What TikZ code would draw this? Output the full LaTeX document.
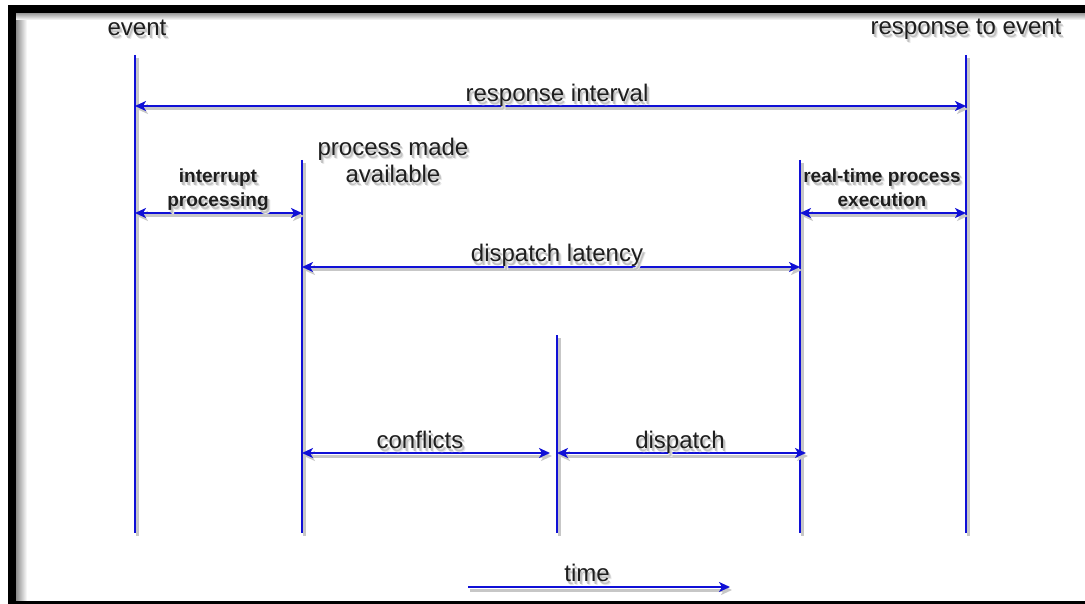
\documentclass[tikz,border=0pt]{standalone}
\usepackage{fontspec}
\setmainfont{Liberation Sans}
\usetikzlibrary{arrows.meta,calc}
\definecolor{tline}{RGB}{16,16,214}
\definecolor{ink}{RGB}{30,30,30}
% text with a soft drop shadow
\newcommand\shd[1]{\leavevmode
  \rlap{\smash{\kern3pt\raisebox{-4pt}{\color{black!9}#1}}}%
  \rlap{\smash{\kern1pt\raisebox{-2pt}{\color{black!9}#1}}}%
  \rlap{\smash{\kern2pt\raisebox{-3pt}{\color{black!24}#1}}}%
  #1}
\begin{document}
\begin{tikzpicture}[x=1pt,y=-1pt,
  mark line/.style={draw=tline, line width=2pt,
    preaction={draw=black!22, line width=3pt, transform canvas={shift={(2,3)}}}},
  span/.style={mark line, {Stealth[length=11pt,width=10pt,inset=3pt]}-{Stealth[length=11pt,width=10pt,inset=3pt]}},
  onearrow/.style={mark line, -{Stealth[length=11pt,width=10pt,inset=3pt]}},
  lbl/.style={text=ink, inner sep=0pt, font=\fontsize{24}{27}\selectfont},
  small lbl/.style={text=ink, inner sep=0pt, align=center, font=\fontsize{19}{24}\selectfont\bfseries}]
\useasboundingbox (0,0) rectangle (1085,604);
\fill[white] (0,0) rectangle (1085,604);

% frame with inner shading
\shade[left color=black!45, right color=white] (16,13) rectangle (27,601);
\shade[top color=black!40, bottom color=white] (16,13) rectangle (1085,20);
\fill[black] (8,5) rectangle (16,604);
\fill[black] (8,5) rectangle (1085,13);
\fill[black] (8,601) rectangle (1085,604);

% time marks
\coordinate (evTop) at (135,55);  \coordinate (evBot) at (135,533);
\coordinate (paTop) at (302,160); \coordinate (paBot) at (302,533);
\coordinate (cfTop) at (557,335); \coordinate (cfBot) at (557,533);
\coordinate (rtTop) at (800,160); \coordinate (rtBot) at (800,533);
\coordinate (rsTop) at (966,55);  \coordinate (rsBot) at (966,533);

% heights of the interval arrows
\coordinate (yRI) at (0,106);
\coordinate (yIP) at (0,213);
\coordinate (yDL) at (0,267);
\coordinate (yCD) at (0,453);
\coordinate (tStart) at (468,587);
\coordinate (tEnd) at (730,587);

\draw[mark line] (evTop) -- (evBot);
\draw[mark line] (paTop) -- (paBot);
\draw[mark line] (cfTop) -- (cfBot);
\draw[mark line] (rtTop) -- (rtBot);
\draw[mark line] (rsTop) -- (rsBot);

\draw[span] (evTop |- yRI) -- (rsTop |- yRI);
\draw[span] (evTop |- yIP) -- (paTop |- yIP);
\draw[span] (rtTop |- yIP) -- (rsTop |- yIP);
\draw[span] (paTop |- yDL) -- (rtTop |- yDL);
\draw[span] (paTop |- yCD) -- ($(cfTop |- yCD)+(-7,0)$);
\draw[span] (cfTop |- yCD) -- ($(rtTop |- yCD)+(6,0)$);
\draw[onearrow] (tStart) -- (tEnd);

% labels
\node[lbl, anchor=base] (evLbl) at (137,36) {\shd{event}};
\node[lbl, anchor=base] (rteLbl) at (966,35) {\shd{response to event}};
\node[lbl, anchor=base] (riLbl) at (557,102) {\shd{response interval}};
\node[lbl, align=center] (pmaLbl) at (393,160) {\shd{process made}\\\shd{available}};
\node[small lbl] (ipLbl) at (218,190) {\shd{interrupt}\\\shd{processing}};
\node[small lbl] (rtLbl) at (882,188) {\shd{real-time process}\\\shd{execution}};
\node[lbl, anchor=base] (dlLbl) at (557,262) {\shd{dispatch latency}};
\node[lbl, anchor=base] (cfLbl) at (420,448) {\shd{conflicts}};
\node[lbl, anchor=base] (dsLbl) at (680,448) {\shd{dispatch}};
\node[lbl, anchor=base] (tmLbl) at (587,581) {\shd{time}};
\end{tikzpicture}
\end{document}
